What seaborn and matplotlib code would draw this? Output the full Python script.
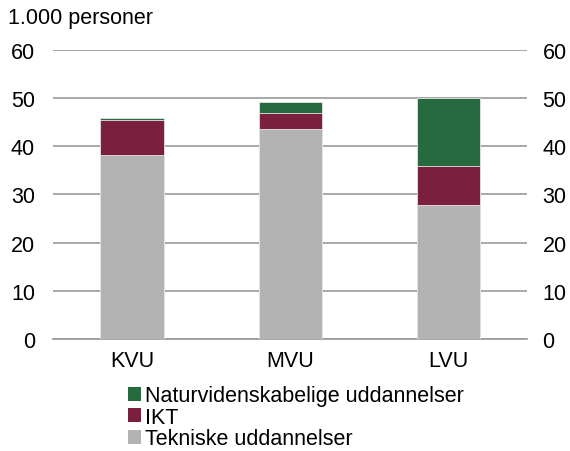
import numpy as np
import pandas as pd
import matplotlib
matplotlib.use('Agg')
import matplotlib.pyplot as plt
import seaborn as sns
from matplotlib.patches import Patch

# Data (1.000 personer)
categories = ['KVU', 'MVU', 'LVU']
tekniske = [38.1, 43.6, 27.9]
ikt = [7.4, 3.4, 8.1]
natur = [0.3, 2.2, 14.1]

series_names = ['Naturvidenskabelige uddannelser', 'IKT', 'Tekniske uddannelser']
colors = {'Naturvidenskabelige uddannelser': '#276A3F',
          'IKT': '#7A1F3D',
          'Tekniske uddannelser': '#B3B3B3'}

sns.set_style('white', {'text.color': 'black', 'xtick.color': 'black', 'ytick.color': 'black'})
plt.rcParams['font.family'] = ['Liberation Sans', 'DejaVu Sans']
fs = 15.5

# cumulative tops, drawn from the tallest down so each layer shows
df = pd.DataFrame({'kategori': categories,
                   'Tekniske uddannelser': tekniske,
                   'IKT': np.array(tekniske) + np.array(ikt),
                   'Naturvidenskabelige uddannelser': np.array(tekniske) + np.array(ikt) + np.array(natur)})

fig = plt.figure(figsize=(5.7, 4.52), dpi=100)
ax = fig.add_axes([0.093, 0.248, 0.832, 0.639])

for name in series_names:
    sns.barplot(data=df, x='kategori', y=name, color=colors[name], width=0.4,
                saturation=1, ax=ax, zorder=3, edgecolor='#e6e6e6', linewidth=0.6)

ax.set_ylim(0, 60)
ax.set_xlim(-0.5, 2.5)
ax.set_yticks(range(0, 61, 10))
ax.yaxis.grid(True, color='#999999', linewidth=1.2, zorder=0)
ax.set_axisbelow(True)
ax.set_xlabel('')
ax.set_ylabel('')
for s in ['top', 'left', 'right']:
    ax.spines[s].set_visible(False)
ax.spines['bottom'].set_color('#999999')
ax.spines['bottom'].set_linewidth(1.2)

ax.tick_params(axis='y', length=0, labelsize=fs, pad=13, labelcolor='black')
ax.tick_params(axis='x', length=0, labelsize=fs, pad=8, labelcolor='black')
# minor ticks at category boundaries
ax.set_xticks([0.5, 1.5], minor=True)
ax.tick_params(axis='x', which='minor', length=5, color='#999999', width=1)

ax2 = ax.twinx()
ax2.set_ylim(0, 60)
ax2.set_yticks(range(0, 61, 10))
ax2.tick_params(axis='y', length=0, labelsize=fs, pad=11, labelcolor='black')
for s in ['top', 'left', 'right', 'bottom']:
    ax2.spines[s].set_visible(False)

fig.text(0.014, 0.935, '1.000 personer', fontsize=fs, ha='left', va='bottom', color='black')

handles = [Patch(facecolor=colors[n], edgecolor='none') for n in series_names]
leg = fig.legend(handles, series_names, loc='upper left', bbox_to_anchor=(0.225, 0.145),
                 frameon=False, fontsize=fs, handlelength=0.6, handleheight=0.6,
                 handletextpad=0.2, labelspacing=0.02, borderpad=0, borderaxespad=0)
for t in leg.get_texts():
    t.set_color('black')

fig.savefig('out.png', dpi=100)
